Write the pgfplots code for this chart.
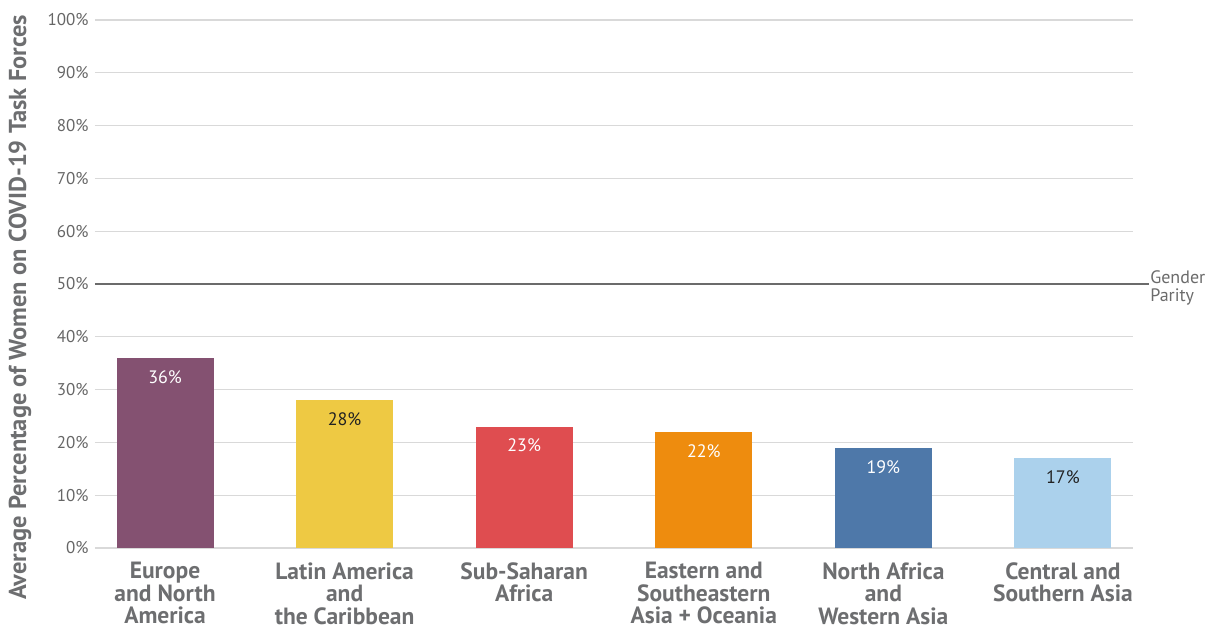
\documentclass[border=0pt]{standalone}
\usepackage{fontspec}
\setmainfont{PT Sans}
\usepackage{pgfplots}
\pgfplotsset{compat=1.18}

\definecolor{cEurope}{HTML}{845171}
\definecolor{cLatin}{HTML}{EEC943}
\definecolor{cSub}{HTML}{DF4D50}
\definecolor{cEast}{HTML}{EE8C0E}
\definecolor{cNorth}{HTML}{4E78A9}
\definecolor{cCentral}{HTML}{ABD1EC}
\definecolor{gridgray}{HTML}{D9D9D9}
\definecolor{paritygray}{HTML}{6B6B6B}
\definecolor{labelgray}{HTML}{6D6E70}
\definecolor{tickgray}{HTML}{666666}
\definecolor{darktext}{HTML}{222222}

\begin{document}
\begin{tikzpicture}
\begin{axis}[
  at={(0,0)}, anchor=south west,
  scale only axis, width=1038bp, height=528bp,
  xmin=-0.39, xmax=5.39, ymin=0, ymax=100,
  axis line style={draw=none},
  major tick length=0pt,
  ymajorgrids,
  grid style={draw=gridgray, line width=1.3bp},
  ytick={0,10,...,100},
  /pgf/number format/assume math mode=true,
  yticklabel={\pgfmathprintnumber{\tick}\%},
  yticklabel style={font=\fontsize{17bp}{20bp}\selectfont, text=tickgray, xshift=-3bp},
  xtick={0,1,2,3,4,5},
  xticklabels={{Europe\\and North\\America},{Latin America\\and\\the Caribbean},{Sub-Saharan\\Africa},{Eastern and\\Southeastern\\Asia + Oceania},{North Africa\\and\\Western Asia},{Central and\\Southern Asia}},
  xticklabel style={align=center, anchor=north, font=\bfseries\fontsize{23.5bp}{22.5bp}\selectfont, text=labelgray, yshift=-11bp},
  ylabel={Average Percentage of Women on COVID-19 Task Forces},
  ylabel style={at={(axis description cs:-0.0723,0.456)}, anchor=center, font=\bfseries\fontsize{24.5bp}{26bp}\selectfont, text=labelgray},
  ybar, bar width=97bp,
  clip=false,
  nodes near coords={\pgfmathprintnumber{\pgfplotspointmeta}\%},
  every node near coord/.append style={anchor=north, yshift=-9bp, font=\fontsize{18bp}{20bp}\selectfont},
]
\addplot[fill=cEurope, draw=none, bar shift=0pt, nodes near coords style={text=white}] coordinates {(0,36)};
\addplot[fill=cLatin, draw=none, bar shift=0pt, nodes near coords style={text=darktext}] coordinates {(1,28)};
\addplot[fill=cSub, draw=none, bar shift=0pt, nodes near coords style={text=white}] coordinates {(2,23)};
\addplot[fill=cEast, draw=none, bar shift=0pt, nodes near coords style={text=white}] coordinates {(3,22)};
\addplot[fill=cNorth, draw=none, bar shift=0pt, nodes near coords style={text=white}] coordinates {(4,19)};
\addplot[fill=cCentral, draw=none, bar shift=0pt, nodes near coords style={text=darktext}] coordinates {(5,17)};
% gender parity reference line
\addplot[sharp plot, draw=paritygray, line width=2bp, no marks, nodes near coords={}] coordinates {(-0.39,50) (5.479,50)};
\node[anchor=west, align=left, text=paritygray, font=\fontsize{18bp}{18bp}\selectfont, inner sep=1bp, yshift=-4bp] at (axis cs:5.48,50) {Gender\\Parity};
\end{axis}
\pgfresetboundingbox
\path[use as bounding box] (-95bp,-81bp) rectangle (1121bp,548bp);
\end{tikzpicture}
\end{document}
